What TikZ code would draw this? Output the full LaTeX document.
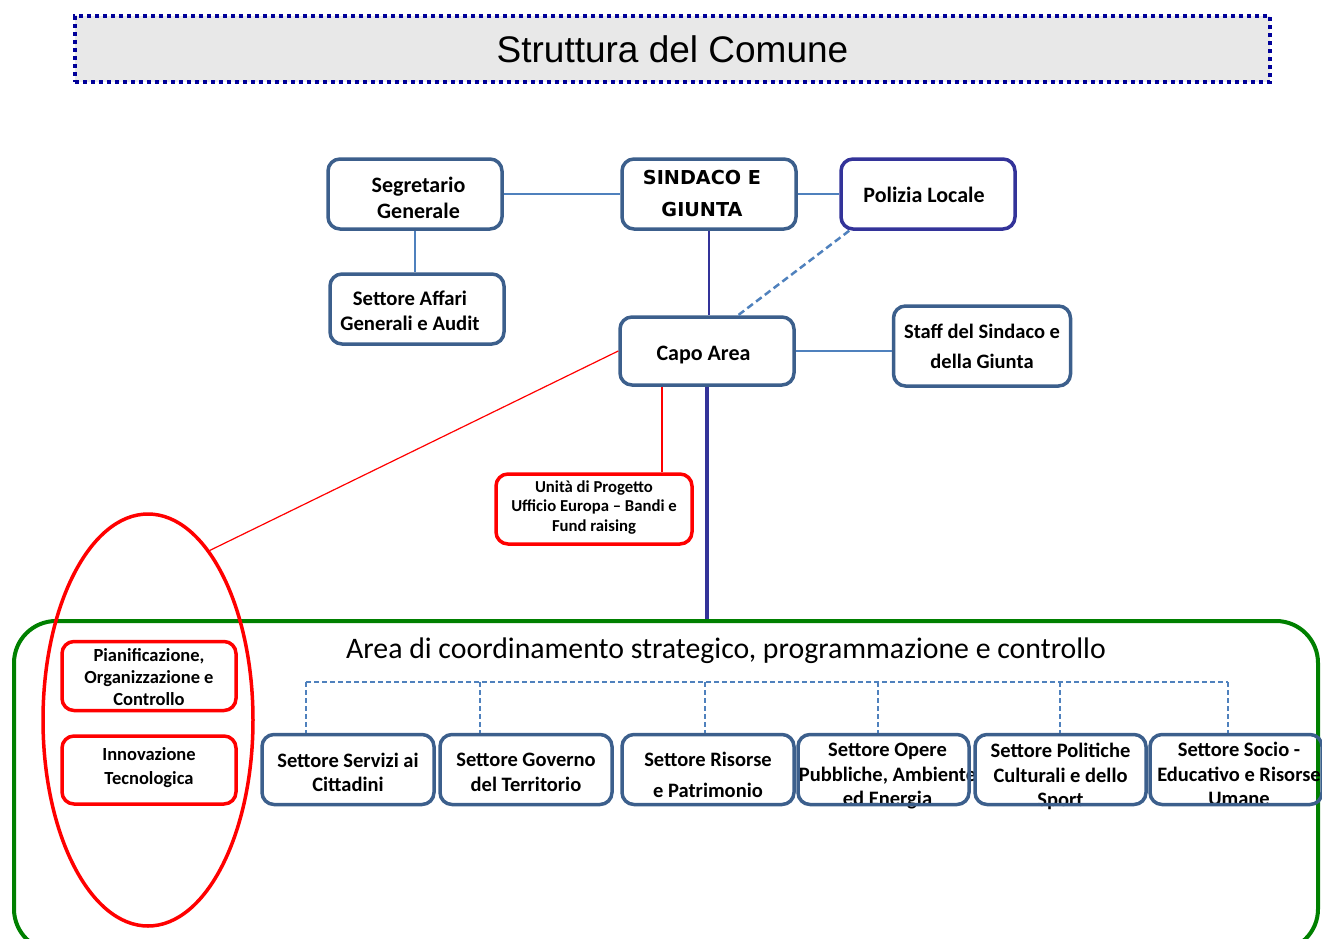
\documentclass[tikz,border=0pt]{standalone}
\usepackage{fontspec}
\setmainfont{Carlito}
\newfontfamily\titlefont{Liberation Sans}
\newfontfamily\capsfont{DejaVu Sans}
\usetikzlibrary{shapes.geometric}
\definecolor{boxblue}{RGB}{60,95,140}
\definecolor{lineblue}{RGB}{79,129,189}
\definecolor{darkblue}{RGB}{51,51,153}
\definecolor{titleblue}{RGB}{0,0,153}
\definecolor{titlegray}{RGB}{232,232,232}
\definecolor{areagreen}{RGB}{0,128,0}

\begin{document}
\begin{tikzpicture}[x=1pt, y=-1pt,
  box/.style={draw=boxblue, line width=3.5pt, rounded corners=12pt, inner sep=0pt,
    minimum width=174, minimum height=70},
  redbox/.style={box, draw=red},
  boxtext/.style={inner sep=0pt, align=center, font=\bfseries\fontsize{22}{26}\selectfont},
  rowtext/.style={boxtext, font=\bfseries\fontsize{20.5}{24.5}\selectfont},
  link/.style={draw=lineblue, line width=1.5pt},
  buslink/.style={draw=lineblue, line width=1.5pt, dash pattern=on 5pt off 3pt}]
\useasboundingbox (0, 0) rectangle (1322, 939);
\clip (0, 0) rectangle (1322, 939);
\draw (672.5, 49) node [draw=titleblue, fill=titlegray, line width=4pt, dash pattern=on 4pt off 4pt,
  minimum width=1195, minimum height=66, font=\titlefont\fontsize{37}{40}\selectfont] (title) {Struttura del Comune};
\draw (666, 786) node [draw=areagreen, line width=4pt, rounded corners=42pt, minimum width=1304, minimum height=330] (area) {};
%Text
\draw (418.5, 198) node [boxtext] (segrtext) {Segretario\\Generale};
\draw (702, 194) node [boxtext, font=\capsfont\bfseries\fontsize{19.2}{32}\selectfont] (sindtext) {SINDACO E\\GIUNTA};
\draw (924, 195) node [boxtext] (poltext) {Polizia Locale};
\draw (410, 311) node [boxtext, font=\bfseries\fontsize{20.7}{25}\selectfont] (affaritext) {Settore Affari\\Generali e Audit};
\draw (703.5, 355) node [boxtext] (capotext) {Capo Area};
\draw (982, 346) node [boxtext, font=\bfseries\fontsize{20.5}{30}\selectfont] (stafftext) {Staff del Sindaco e\\della Giunta};
\draw (594, 507.5) node [boxtext, font=\bfseries\fontsize{16.7}{19.5}\selectfont] (unitatext) {Unità di Progetto\\Ufficio Europa – Bandi e\\Fund raising};
\draw (726, 651) node [font=\fontsize{29.8}{34}\selectfont] (areatext) {Area di coordinamento strategico, programmazione e controllo};
\draw (149, 677) node [boxtext, font=\bfseries\fontsize{18.5}{22}\selectfont] (pianiftext) {Pianificazione,\\Organizzazione e\\Controllo};
\draw (149, 768) node [boxtext, font=\bfseries\fontsize{18.5}{24}\selectfont] (innovtext) {Innovazione\\Tecnologica};
\draw (348, 772.5) node [rowtext] (servizitext) {Settore Servizi ai\\Cittadini};
\draw (526, 772.5) node [rowtext] (governotext) {Settore Governo\\del Territorio};
\draw (708, 775) node [rowtext, font=\bfseries\fontsize{20.5}{31}\selectfont] (risorsetext) {Settore Risorse\\e Patrimonio};
\draw (887.5, 776.5) node [rowtext] (operetext) {Settore Opere\\Pubbliche, Ambiente\\ed Energia};
\draw (1060.5, 776.5) node [rowtext] (politichetext) {Settore Politiche\\Culturali e dello\\Sport};
\draw (1239, 774) node [rowtext] (sociotext) {Settore Socio -\\Educativo e Risorse\\Umane};
%Boxes
\draw (415, 194) node [box] (segr) {};
\draw (709, 194) node [box] (sind) {};
\draw (928, 194) node [box, draw=darkblue] (pol) {};
\draw (417, 309) node [box] (affari) {};
\draw (707, 351) node [box, minimum height=68] (capo) {};
\draw (982, 346) node [box, minimum width=177, minimum height=80] (staff) {};
\draw (594, 509) node [redbox, minimum width=196] (unita) {};
\draw (149, 676) node [redbox, minimum height=69] (pianif) {};
\draw (149, 770) node [redbox, minimum height=68] (innov) {};
\draw (148, 720) node [ellipse, draw=red, line width=3.5pt, minimum width=210, minimum height=412, inner sep=0pt] (ell) {};
\draw (348, 769.5) node [box, minimum width=172] (servizi) {};
\draw (526, 769.5) node [box, minimum width=172] (governo) {};
\draw (708, 769.5) node [box, minimum width=172] (risorse) {};
\draw (883.5, 769.5) node [box, minimum width=171] (opere) {};
\draw (1060.5, 769.5) node [box, minimum width=171] (politiche) {};
\draw (1236, 769.5) node [box, minimum width=172] (socio) {};
%Connectors
\draw [link] (segr.east) -- (sind.west);
\draw [link] (sind.east) -- (pol.west);
\draw [link] (segr.south) -- (segr.south |- affari.north);
\draw [draw=darkblue, line width=1.5pt] (sind.south) -- (sind.south |- capo.north);
\draw [draw=lineblue, line width=2.5pt, dash pattern=on 7pt off 4pt] (pol.205) -- (capo.49);
\draw [link] (capo.east) -- (capo.east -| staff.west);
\draw [draw=red, line width=1.2pt] (capo.west) -- (ell.70);
\coordinate (cu) at (662, 387);
\draw [draw=red, line width=2pt] (cu) -- (cu |- unita.north);
\draw [draw=darkblue, line width=4pt] (capo.south) -- (capo.south |- area.north);
\draw [buslink] (306, 682) -- (1228, 682);
\foreach \x/\n in {306/servizi, 480/governo, 705/risorse, 878/opere, 1060/politiche, 1228/socio}
  \draw [buslink] (\x, 682) -- (\x, 0 |- \n.north);
\end{tikzpicture}
\end{document}
